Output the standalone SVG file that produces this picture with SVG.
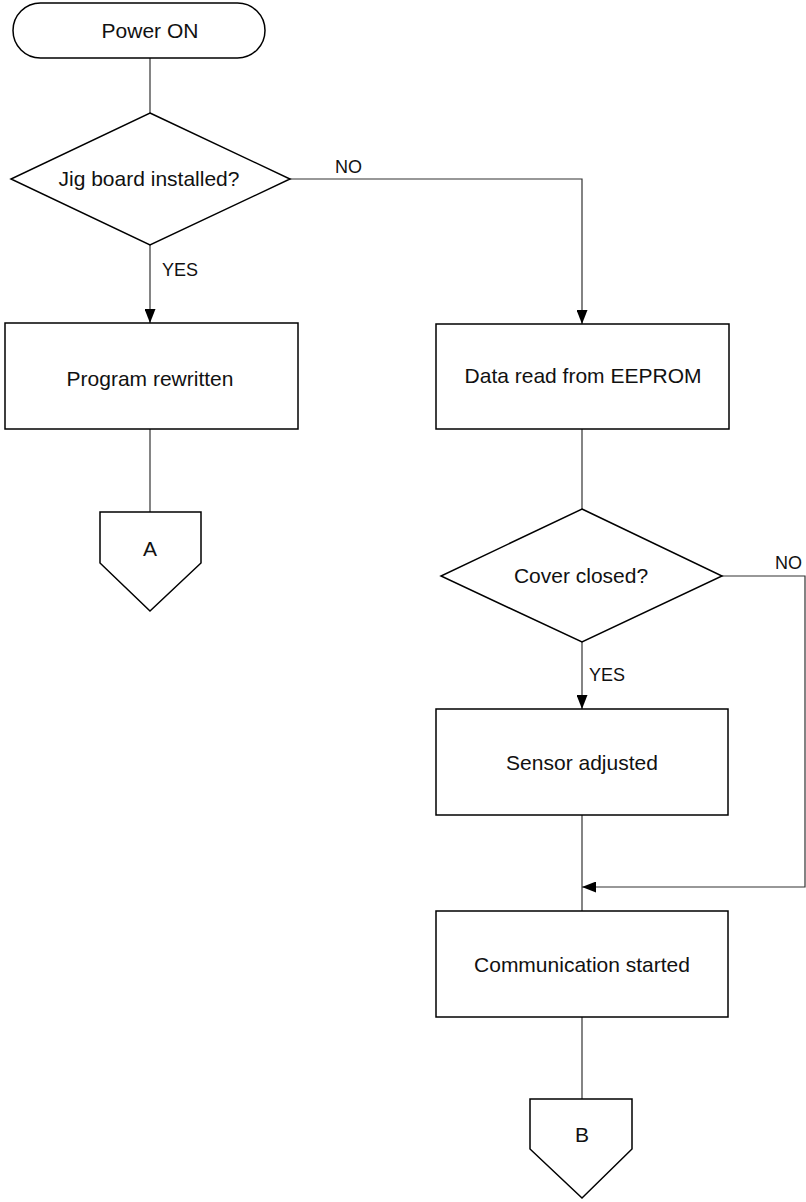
<svg xmlns="http://www.w3.org/2000/svg" width="806" height="1202" viewBox="0 0 806 1202">
<style>
.shape{fill:#fff;stroke:#000;stroke-width:1.5}
.line{fill:none;stroke:#333;stroke-width:1.2}
.t{font-family:"Liberation Sans",Arial,sans-serif;font-size:21px;fill:#111;text-anchor:middle}
.lbl{font-family:"Liberation Sans",Arial,sans-serif;font-size:18px;fill:#111}
</style>
<defs>
<marker id="arr" viewBox="0 0 14 11" refX="14" refY="5.5" markerWidth="14" markerHeight="11" markerUnits="userSpaceOnUse" orient="auto">
<path d="M0,0 L14,5.5 L0,11 Z" fill="#000"/>
</marker>
</defs>
<rect width="806" height="1202" fill="#fff"/>
<g id="connectors">
<line class="line" x1="150" y1="58" x2="150" y2="113"/>
<line class="line" x1="150" y1="245" x2="150" y2="323" marker-end="url(#arr)"/>
<polyline class="line" points="290,179 582,179 582,324" marker-end="url(#arr)"/>
<line class="line" x1="150" y1="429" x2="150" y2="512"/>
<line class="line" x1="582" y1="429" x2="582" y2="509"/>
<line class="line" x1="582" y1="642" x2="582" y2="709" marker-end="url(#arr)"/>
<polyline class="line" points="722,576 805,576 805,887 582,887" marker-end="url(#arr)"/>
<line class="line" x1="582" y1="815" x2="582" y2="911"/>
<line class="line" x1="582" y1="1017" x2="582" y2="1099"/>
<text class="lbl" x="335" y="173">NO</text>
<text class="lbl" x="162" y="276">YES</text>
<text class="lbl" x="775" y="569">NO</text>
<text class="lbl" x="589" y="681">YES</text>
</g>
<g id="power-on">
<rect class="shape" x="13" y="3" width="252" height="55" rx="27.5" ry="27.5"/>
<text class="t" x="150" y="38">Power ON</text>
</g>
<g id="jig-board">
<polygon class="shape" points="150,113 290,179 150,245 11,179"/>
<text class="t" x="149" y="186">Jig board installed?</text>
</g>
<g id="program-rewritten">
<rect class="shape" x="5" y="323" width="293" height="106"/>
<text class="t" x="150" y="386">Program rewritten</text>
</g>
<g id="connector-a">
<polygon class="shape" points="100,512 201,512 201,563 150,611 100,563"/>
<text class="t" x="150" y="556">A</text>
</g>
<g id="data-read">
<rect class="shape" x="436" y="324" width="293" height="105"/>
<text class="t" x="583" y="383">Data read from EEPROM</text>
</g>
<g id="cover-closed">
<polygon class="shape" points="582,509 722,576 582,642 441,576"/>
<text class="t" x="581" y="583">Cover closed?</text>
</g>
<g id="sensor-adjusted">
<rect class="shape" x="436" y="709" width="292" height="106"/>
<text class="t" x="582" y="770">Sensor adjusted</text>
</g>
<g id="communication-started">
<rect class="shape" x="436" y="911" width="292" height="106"/>
<text class="t" x="582" y="972">Communication started</text>
</g>
<g id="connector-b">
<polygon class="shape" points="530,1099 632,1099 632,1149 582,1198 530,1149"/>
<text class="t" x="582" y="1142">B</text>
</g>
</svg>
